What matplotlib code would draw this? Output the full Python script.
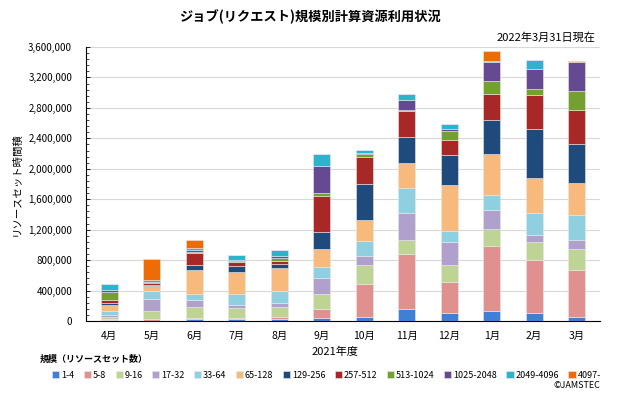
import matplotlib
matplotlib.use("Agg")
import matplotlib.pyplot as plt
import numpy as np
from matplotlib.ticker import MultipleLocator, FuncFormatter

plt.rcParams["font.family"] = ["Noto Sans CJK JP", "DejaVu Sans"]

months = ["4月", "5月", "6月", "7月", "8月", "9月", "10月", "11月", "12月", "1月", "2月", "3月"]

# values in thousands of resource-set hours
s_1_4 = [12, 6, 28, 32, 32, 38, 46, 158, 100, 126, 104, 59]
s_5_8 = [14, 16, 6, 6, 17, 118, 436, 725, 412, 855, 700, 608]
s_9_16 = [33, 112, 152, 134, 140, 195, 260, 180, 228, 225, 230, 275]
s_17_32 = [20, 155, 86, 37, 46, 216, 114, 352, 300, 252, 90, 126]
s_33_64 = [50, 107, 78, 150, 158, 136, 194, 328, 140, 193, 294, 329]
s_65_128 = [86, 63, 320, 290, 300, 244, 280, 329, 604, 545, 460, 414]
s_129_256 = [20, 19, 60, 78, 60, 226, 467, 352, 395, 450, 650, 514]
s_257_512 = [42, 19, 157, 50, 38, 465, 360, 338, 200, 342, 447, 451]
s_513_1024 = [98, 6, 24, 9, 33, 46, 40, 10, 113, 171, 77, 248]
s_1025_2048 = [33, 6, 16, 13, 24, 356, 10, 130, 36, 248, 262, 374]
s_2049_4096 = [80, 28, 37, 74, 80, 153, 40, 80, 64, 9, 117, 5]
s_4097 = [0, 280, 100, 0, 0, 0, 0, 0, 0, 135, 0, 18]

labels = ["1-4", "5-8", "9-16", "17-32", "33-64", "65-128", "129-256",
          "257-512", "513-1024", "1025-2048", "2049-4096", "4097-"]
colors = ["#3f7fd6", "#e0908e", "#bdd495", "#b0a0cc", "#8fd0e0", "#f7b97c",
          "#1f4a7c", "#a82828", "#74a030", "#654a92", "#2fb2cc", "#ee6c08"]

series = [s_1_4, s_5_8, s_9_16, s_17_32, s_33_64, s_65_128, s_129_256,
          s_257_512, s_513_1024, s_1025_2048, s_2049_4096, s_4097]

fig = plt.figure(figsize=(6.4, 3.95), dpi=100)
ax = fig.add_axes([86 / 640, 1 - 321 / 395, 514 / 640, 274 / 395])

x = np.arange(len(months))
bottom = np.zeros(len(months))
for vals, lab, col in zip(series, labels, colors):
    v = np.array(vals) * 1000.0
    ax.bar(x, v, 0.4, bottom=bottom, color=col, edgecolor="#e8e8e8",
           linewidth=0.4, label=lab, zorder=3)
    bottom += v

ax.set_xlim(-0.55, len(months) - 0.45)
ax.set_ylim(0, 3600000)
ax.yaxis.set_major_locator(MultipleLocator(400000))
ax.yaxis.set_minor_locator(MultipleLocator(80000))
ax.yaxis.set_major_formatter(FuncFormatter(lambda v, p: f"{int(v):,}"))
ax.grid(axis="y", color="#d8d8d8", linewidth=0.8, zorder=0)
ax.set_xticks(x)
ax.set_xticklabels(months, fontsize=7.5)
ax.tick_params(axis="y", labelsize=7, direction="in", length=3, width=0.6, pad=10)
ax.tick_params(axis="y", which="minor", direction="in", length=2, width=0.5)
ax.tick_params(axis="x", length=0, pad=7)
for side in ["top", "right"]:
    ax.spines[side].set_visible(False)
ax.spines["left"].set_linewidth(0.8)
ax.spines["bottom"].set_linewidth(0.8)

ax.set_ylabel("リソースセット時間積", fontsize=7.5)
ax.yaxis.set_label_coords(-0.125, 0.5)

fig.text(0.485, 0.958, "ジョブ(リクエスト)規模別計算資源利用状況", ha="center", va="center",
         fontsize=9.5, fontweight="bold")
fig.text(0.93, 0.905, "2022年3月31日現在", ha="right", va="center", fontsize=8)
fig.text(0.523, 1 - 352 / 395, "2021年度", ha="center", va="center", fontsize=8)
fig.text(40 / 640, 1 - 359 / 395, "規模（リソースセット数）", ha="left", va="center",
         fontsize=6.5, fontweight="bold")
fig.text(600 / 640, 1 - 386 / 395, "©JAMSTEC", ha="right", va="center", fontsize=6.5)

fig.legend(loc="center", bbox_to_anchor=(0.51, 1 - 375 / 395), ncol=12,
           frameon=False, fontsize=6.5, handlelength=0.8, handleheight=0.8,
           handletextpad=0.2, columnspacing=1.05, borderaxespad=0)

fig.savefig("out.png", dpi=100)
